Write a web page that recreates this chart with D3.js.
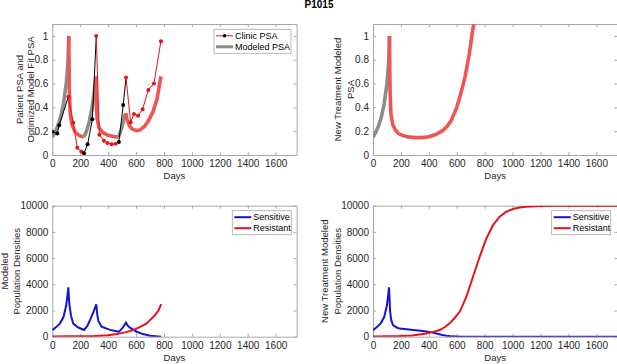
<!DOCTYPE html>
<html lang="en-US">
<head>
<meta charset="utf-8">
<script src="https://cdn.jsdelivr.net/npm/d3@7"></script>
<style>
body {
  margin: 0;
  background: #fff;
  font-family: 'Liberation Sans', Arial, Helvetica, sans-serif;
}

svg {
  display: block;
}

text {
  fill: #262626;
}

.tick text {
  font-size: 10px;
}

.axis path, .axis line {
  stroke: #a8a8a8;
}

text.title {
  font-size: 10px;
  font-weight: 700;
  fill: #000;
}

text.label {
  font-size: 9.5px;
}

text.legend {
  font-size: 9px;
  fill: #000;
}
</style>
</head>
<body>
<svg id="fig" width="617" height="364"></svg>
<script>
  // ticks
  const dayTicks = [0, 200, 400, 600, 800, 1000, 1200, 1400, 1600];
  const psaTicks = [0, 0.2, 0.4, 0.6, 0.8, 1];
  const popTicks = [0, 2000, 4000, 6000, 8000, 10000];

  // clinic PSA (normalised), on = treatment given after this visit
  const clinicDays = [0, 36, 50, 115, 150, 179, 208, 227, 253, 287, 315, 337, 370, 395, 425, 454, 477, 508, 528, 561, 585, 614, 647, 688, 728, 778];
  const clinicPSA  = [0.196, 0.18, 0.25, 0.49, 0.27, 0.06, 0.03, 0.014, 0.09, 0.30, 1.0, 0.17, 0.12, 0.10, 0.09, 0.095, 0.11, 0.42, 0.65, 0.275, 0.345, 0.33, 0.385, 0.546, 0.60, 0.955];
  const clinicOn   = [0, 0, 0, 1, 1, 1, 1, 0, 0, 0, 1, 1, 1, 1, 1, 1, 0, 0, 1, 1, 1, 1, 1, 1, 1, 1];

  // modeled PSA fit, on = treatment on the segment that starts here
  const fitDays = [0, 20, 40, 60, 80, 100, 112, 118, 122, 128, 140, 160, 180, 200, 225, 245, 265, 285, 300, 312, 316, 322, 335, 360, 400, 440, 475, 490, 505, 520, 527, 535, 550, 570, 600, 630, 660, 690, 720, 750, 778];
  const fitPSA  = [0.15, 0.19, 0.245, 0.32, 0.43, 0.6, 0.78, 1.0, 0.55, 0.35, 0.26, 0.2, 0.175, 0.16, 0.15, 0.2, 0.28, 0.4, 0.52, 0.66, 0.4, 0.3, 0.23, 0.19, 0.165, 0.155, 0.15, 0.2, 0.26, 0.33, 0.35, 0.3, 0.25, 0.22, 0.205, 0.21, 0.24, 0.29, 0.36, 0.47, 0.66];
  const fitOn   = [0, 0, 0, 0, 0, 0, 0, 1, 1, 1, 1, 1, 1, 1, 0, 0, 0, 0, 0, 1, 1, 1, 1, 1, 1, 1, 0, 0, 0, 0, 1, 1, 1, 1, 1, 1, 1, 1, 1, 1, 1];

  // new treatment modeled PSA
  const newDays = [0, 20, 40, 60, 80, 100, 112, 118, 122, 128, 140, 160, 183, 215, 250, 300, 350, 400, 450, 500, 530, 560, 600, 630, 660, 690, 714, 725];
  const newPSA  = [0.15, 0.19, 0.245, 0.32, 0.43, 0.6, 0.78, 1.0, 0.55, 0.35, 0.26, 0.21, 0.18, 0.163, 0.152, 0.146, 0.146, 0.153, 0.172, 0.205, 0.24, 0.29, 0.4, 0.52, 0.66, 0.85, 1.05, 1.12];
  const newOn   = [0, 0, 0, 0, 0, 0, 0, 1, 1, 1, 1, 1, 1, 1, 1, 1, 1, 1, 1, 1, 1, 1, 1, 1, 1, 1, 1, 1];

  // modeled populations
  const sensDays = [0, 30, 55, 80, 100, 115, 122, 134, 150, 186, 227, 250, 270, 295, 315, 322, 330, 353, 413, 475, 490, 504, 528, 540, 556, 604, 650, 700, 780];
  const sensPop  = [500, 750, 1020, 1500, 2400, 3770, 2500, 1600, 1000, 700, 510, 800, 1270, 1900, 2470, 1700, 1200, 760, 520, 380, 500, 690, 1070, 850, 690, 380, 200, 80, 0];
  const resDays  = [0, 100, 200, 300, 400, 461, 520, 580, 630, 676, 735, 760, 780];
  const resPop   = [20, 25, 30, 50, 110, 200, 330, 500, 750, 1020, 1650, 2000, 2490];

  const newSensDays = [0, 30, 55, 80, 100, 115, 122, 130, 143, 170, 191, 240, 287, 340, 382, 420, 454, 490, 525, 570, 621, 1750];
  const newSensPop  = [500, 750, 1020, 1500, 2400, 3770, 2000, 1300, 890, 700, 620, 560, 510, 460, 400, 330, 250, 150, 76, 25, 0, 0];
  const newResDays  = [0, 100, 191, 280, 382, 430, 478, 515, 549, 585, 621, 669, 716, 764, 812, 860, 907, 955, 1003, 1050, 1098, 1194, 1300, 1750];
  const newResPop   = [20, 25, 50, 100, 250, 370, 510, 740, 1020, 1430, 1900, 3050, 4580, 6100, 7500, 8520, 9160, 9540, 9750, 9870, 9920, 9970, 9995, 10000];

  const RED = '#e3141c', FITRED = '#f25454', GRAY = '#8c8c8c', BLUE = '#1414d6';

  const svg = d3.select('#fig');

  svg.append('text')
    .attr('class', 'title')
    .attr('x', 319)
    .attr('y', 8)
    .attr('text-anchor', 'middle')
    .text('P1015');

  const pw = 244.3, ph = 131;

  function makePanel(id, left, top, yMax, yTicks, yFmt, yLabels, labelX) {
    const g = svg.append('g').attr('transform', `translate(${left}, ${top})`);
    const x = d3.scaleLinear().domain([0, 1750]).range([0, pw]);
    const y = d3.scaleLinear().domain([0, yMax]).range([ph, 0]);

    g.append('clipPath').attr('id', 'clip' + id)
      .append('rect').attr('width', pw).attr('height', ph);

    g.append('g').attr('class', 'axis')
      .attr('transform', `translate(0, ${ph})`)
      .call(d3.axisBottom(x).tickValues(dayTicks).tickFormat(d3.format('d'))
        .tickSizeInner(-3).tickSizeOuter(0).tickPadding(5));
    g.append('g').attr('class', 'axis')
      .call(d3.axisTop(x).tickValues(dayTicks).tickSizeInner(-3).tickSizeOuter(0).tickFormat(''));
    g.append('g').attr('class', 'axis')
      .call(d3.axisLeft(y).tickValues(yTicks).tickSizeInner(-3).tickSizeOuter(0).tickPadding(4).tickFormat(yFmt));
    g.append('g').attr('class', 'axis')
      .attr('transform', `translate(${pw}, 0)`)
      .call(d3.axisRight(y).tickValues(yTicks).tickSizeInner(-3).tickSizeOuter(0).tickFormat(''));

    g.append('text')
      .attr('class', 'label')
      .attr('x', pw / 2)
      .attr('y', ph + 24)
      .attr('text-anchor', 'middle')
      .text('Days');

    yLabels.forEach((t, i) => {
      g.append('text')
        .attr('class', 'label')
        .attr('transform', `translate(${labelX[i] - left}, ${ph / 2}) rotate(-90)`)
        .attr('text-anchor', 'middle')
        .attr('dy', '0.35em')
        .text(t);
    });

    const plot = g.append('g').attr('clip-path', `url(#clip${id})`);
    return { g, plot, x, y };
  }

  // draws runs of a series, colour chosen by the "on" flag of each segment start
  function phasedLine(p, days, vals, on, colOn, colOff, w) {
    const line = d3.line().x((d) => p.x(d[0])).y((d) => p.y(d[1]));
    let run = [[days[0], vals[0]]];
    for (let i = 0; i < days.length - 1; i++) {
      run.push([days[i + 1], vals[i + 1]]);
      if (i === days.length - 2 || on[i + 1] !== on[i]) {
        p.plot.append('path')
          .attr('d', line(run))
          .attr('fill', 'none')
          .attr('stroke', on[i] ? colOn : colOff)
          .attr('stroke-width', w)
          .attr('stroke-linejoin', 'round');
        run = [[days[i + 1], vals[i + 1]]];
      }
    }
  }

  function simpleLine(p, days, vals, col) {
    p.plot.append('path')
      .attr('d', d3.line().x((d, i) => p.x(days[i])).y((d) => p.y(d))(vals))
      .attr('fill', 'none')
      .attr('stroke', col)
      .attr('stroke-width', 2);
  }

  function legend(p, bx, by, bw, items) {
    const lg = p.g.append('g').attr('transform', `translate(${bx}, ${by})`);
    lg.append('rect')
      .attr('width', bw).attr('height', 24)
      .attr('fill', '#fff').attr('stroke', '#a8a8a8').attr('stroke-width', 0.8);
    items.forEach((it, i) => {
      const cy = 6.5 + i * 11;
      lg.append('line')
        .attr('x1', 2).attr('x2', it.len + 2).attr('y1', cy).attr('y2', cy)
        .attr('stroke', it.color).attr('stroke-width', it.w);
      if (it.marker) {
        lg.append('circle').attr('cx', 2 + it.len / 2).attr('cy', cy).attr('r', 1.8).attr('fill', it.marker);
      }
      lg.append('text')
        .attr('class', 'legend')
        .attr('x', it.len + 4).attr('y', cy).attr('dy', '0.35em')
        .text(it.name);
    });
  }

  const fmtPSA = (d) => d3.format('')(+d.toFixed(1));
  const fmtPop = d3.format('d');

  // top left
  const p1 = makePanel(1, 52.3, 24, 1.1, psaTicks, fmtPSA, ['Patient PSA and', 'Optimized Model Fit PSA'], [19.5, 30.5]);
  phasedLine(p1, fitDays, fitPSA, fitOn, FITRED, GRAY, 3.6);
  for (let i = 0; i < clinicDays.length - 1; i++) {
    p1.plot.append('line')
      .attr('x1', p1.x(clinicDays[i])).attr('y1', p1.y(clinicPSA[i]))
      .attr('x2', p1.x(clinicDays[i + 1])).attr('y2', p1.y(clinicPSA[i + 1]))
      .attr('stroke', clinicOn[i] ? RED : '#000')
      .attr('stroke-width', 1);
  }
  p1.plot.selectAll('circle.pt')
    .data(clinicDays)
    .enter()
    .append('circle')
    .attr('class', 'pt')
    .attr('cx', (d) => p1.x(d))
    .attr('cy', (d, i) => p1.y(clinicPSA[i]))
    .attr('r', 2)
    .attr('fill', (d, i) => clinicOn[i] ? RED : '#000');
  legend(p1, 161.7, 5.3, 77, [
    { name: 'Clinic PSA', color: RED, w: 1, len: 17, marker: '#000' },
    { name: 'Modeled PSA', color: GRAY, w: 3, len: 17 }
  ]);

  // top right
  const p2 = makePanel(2, 373, 24, 1.1, psaTicks, fmtPSA, ['New Treatment Modeled', 'PSA'], [338, 350.5]);
  phasedLine(p2, newDays, newPSA, newOn, FITRED, GRAY, 3.6);

  // bottom left
  const p3 = makePanel(3, 52.3, 205.7, 10000, popTicks, fmtPop, ['Modeled', 'Population Densities'], [5, 17]);
  simpleLine(p3, sensDays, sensPop, BLUE);
  simpleLine(p3, resDays, resPop, RED);
  legend(p3, 180, 5, 59, [
    { name: 'Sensitive', color: BLUE, w: 2, len: 17 },
    { name: 'Resistant', color: RED, w: 2, len: 17 }
  ]);

  // bottom right
  const p4 = makePanel(4, 373, 205.7, 10000, popTicks, fmtPop, ['New Treatment Modeled', 'Population Densities'], [325, 338]);
  simpleLine(p4, newSensDays, newSensPop, BLUE);
  simpleLine(p4, newResDays, newResPop, RED);
  legend(p4, 178.7, 5, 59, [
    { name: 'Sensitive', color: BLUE, w: 2, len: 17 },
    { name: 'Resistant', color: RED, w: 2, len: 17 }
  ]);
</script>
</body>
</html>
